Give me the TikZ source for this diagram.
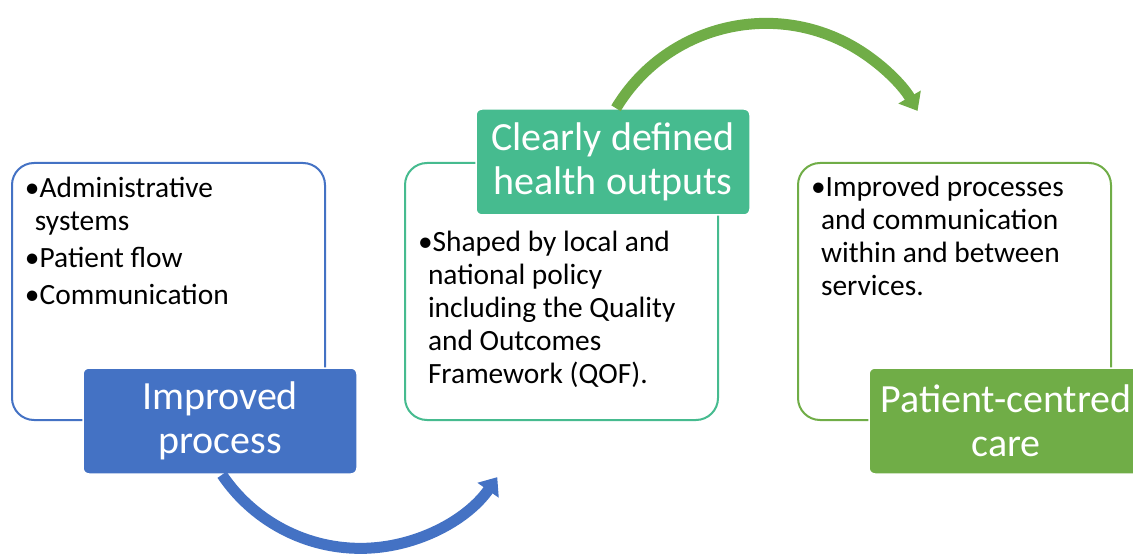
\documentclass[tikz,border=0pt]{standalone}
\usepackage{fontspec}
\setmainfont{Carlito}
\usetikzlibrary{positioning,arrows.meta}
\definecolor{ppblue}{HTML}{4472C4}
\definecolor{ppteal}{HTML}{46BB8F}
\definecolor{ppgreen}{HTML}{70AD47}
% bulleted paragraph with hanging second line
\newcommand{\bitem}[1]{\par\hangindent=10pt\hangafter=1\noindent\textbullet#1\par}
% fixed size text panel, text from the top
\newcommand{\boxtext}[2]{\begin{minipage}[c][257pt][t]{313pt}\vspace*{#1}%
  \fontsize{29.4}{33}\selectfont\raggedright\leftskip=13pt\parskip=4pt #2\end{minipage}}

\begin{document}
\begin{tikzpicture}[x=1pt,y=1pt,
    outbox/.style={draw=#1,line width=2pt,rounded corners=22pt,fill=white,inner sep=0pt},
    headbox/.style={fill=#1,draw=white,line width=1.5pt,rounded corners=6pt,text=white,
      minimum width=274pt,minimum height=106pt,inner sep=2pt,align=center,
      font=\fontsize{40}{44}\selectfont},
    curvearrow/.style={draw=#1,line width=11pt,-{Triangle[length=16pt,width=25pt]}}]
  \useasboundingbox (0,0) rectangle (1133,555);
  % text panels
  \node[outbox=ppblue] (sys) at (168.5,263.5) {\boxtext{14pt}{%
      \bitem{Administrative\newline systems}\bitem{Patient flow}\bitem{Communication}}};
  \node[outbox=ppteal,right=78pt of sys] (pol) {\boxtext{68pt}{%
      \bitem{Shaped by local and\newline national policy\newline including the Quality\newline and Outcomes\newline Framework (QOF).}}};
  \node[outbox=ppgreen,right=78pt of pol] (svc) {\boxtext{13pt}{%
      \bitem{Improved processes\newline and communication\newline within and between\newline services.}}};
  % headings
  \node[headbox=ppblue] (ip) at ([xshift=51.5pt]sys.south) {Improved\\process};
  \node[headbox=ppteal] (ho) at ([xshift=51.5pt]pol.north) {Clearly defined\\health outputs};
  \node[headbox=ppgreen] (pc) at ([xshift=51.5pt]svc.south) {Patient-centred\\care};
  % arrows between the stages
  \draw[curvearrow=ppblue] ([xshift=2pt]ip.south) arc[start angle=214,end angle=325,radius=167pt];
  \draw[curvearrow=ppgreen] ([xshift=3pt]ho.north) arc[start angle=149,end angle=30,radius=175pt];
\end{tikzpicture}
\end{document}
